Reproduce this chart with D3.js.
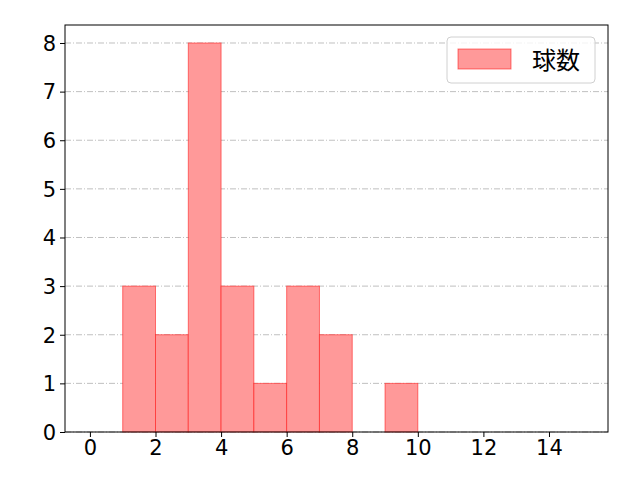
<!DOCTYPE html>
<html>
<head>
<meta charset="utf-8">
<script src="https://cdn.jsdelivr.net/npm/d3@7"></script>
<style>
  body { margin: 0; background: #fff; }
  svg text { font-family: "DejaVu Sans", "Noto Sans CJK JP", sans-serif; }
  .tick text { font-size: 21px; }
  .legend-label { font-family: "Noto Sans CJK JP", sans-serif; font-size: 24px; }
</style>
</head>
<body>
<script>
// histogram bins (left edge, right edge) and counts
const binStarts = [1, 2, 3, 4, 5, 6, 7, 9];
const binEnds = [2, 3, 4, 5, 6, 7, 8, 10];
const counts = [3, 2, 8, 3, 1, 3, 2, 1];
const xTicks = [0, 2, 4, 6, 8, 10, 12, 14];
const yTicks = [0, 1, 2, 3, 4, 5, 6, 7, 8];
const seriesName = '球数';

const svgWidth = 640, svgHeight = 480;
const plotLeft = 65, plotRight = 608, plotTop = 25, plotBottom = 432;

const svg = d3.select('body').append('svg')
  .attr('width', svgWidth)
  .attr('height', svgHeight);

const x = d3.scaleLinear().domain([-0.76, 15.8]).range([plotLeft, plotRight]);
const y = d3.scaleLinear().domain([0, 8.37]).range([plotBottom, plotTop]);

// grid
svg.append('g')
  .selectAll('line')
  .data(yTicks)
  .enter()
  .append('line')
  .attr('x1', plotLeft).attr('x2', plotRight)
  .attr('y1', d => y(d)).attr('y2', d => y(d))
  .attr('stroke', '#b0b0b0')
  .attr('stroke-width', 0.8)
  .attr('stroke-dasharray', '6,2,1,2');

const bins = counts.map((c, i) => ({ x0: binStarts[i], x1: binEnds[i], n: c }));

svg.append('g')
  .selectAll('rect')
  .data(bins)
  .enter()
  .append('rect')
  .attr('x', d => x(d.x0))
  .attr('y', d => y(d.n))
  .attr('width', d => x(d.x1) - x(d.x0))
  .attr('height', d => y(0) - y(d.n))
  .attr('fill', 'rgb(255,153,153)')
  .attr('stroke', 'rgba(255,0,0,0.5)')
  .attr('stroke-width', 1);

const xAxis = d3.axisBottom(x).tickValues(xTicks).tickSize(5).tickPadding(3).tickFormat(d3.format('d'));
const yAxis = d3.axisLeft(y).tickValues(yTicks).tickSize(5).tickPadding(4).tickFormat(d3.format('d'));

const gx = svg.append('g')
  .attr('transform', `translate(0, ${plotBottom})`)
  .call(xAxis)
  .attr('font-size', null)
  .attr('font-family', null);
gx.select('.domain').remove();
gx.selectAll('text').attr('fill', '#000');

const gy = svg.append('g')
  .attr('transform', `translate(${plotLeft}, 0)`)
  .call(yAxis)
  .attr('font-size', null)
  .attr('font-family', null);
gy.select('.domain').remove();
gy.selectAll('text').attr('fill', '#000').attr('dy', '0.35em');

// frame
svg.append('rect')
  .attr('x', plotLeft).attr('y', plotTop)
  .attr('width', plotRight - plotLeft).attr('height', plotBottom - plotTop)
  .attr('fill', 'none')
  .attr('stroke', '#000')
  .attr('stroke-width', 1);

// legend
const lg = svg.append('g').attr('transform', 'translate(447, 37)');
lg.append('rect')
  .attr('width', 148).attr('height', 46)
  .attr('rx', 4)
  .attr('fill', 'rgba(255,255,255,0.8)')
  .attr('stroke', '#d0d0d0');
lg.append('rect')
  .attr('x', 11).attr('y', 12)
  .attr('width', 53).attr('height', 20)
  .attr('fill', 'rgb(255,153,153)')
  .attr('stroke', 'rgba(255,0,0,0.5)');
lg.append('text')
  .attr('class', 'legend-label')
  .attr('x', 85).attr('y', 32)
  .text(seriesName);
</script>
</body>
</html>
